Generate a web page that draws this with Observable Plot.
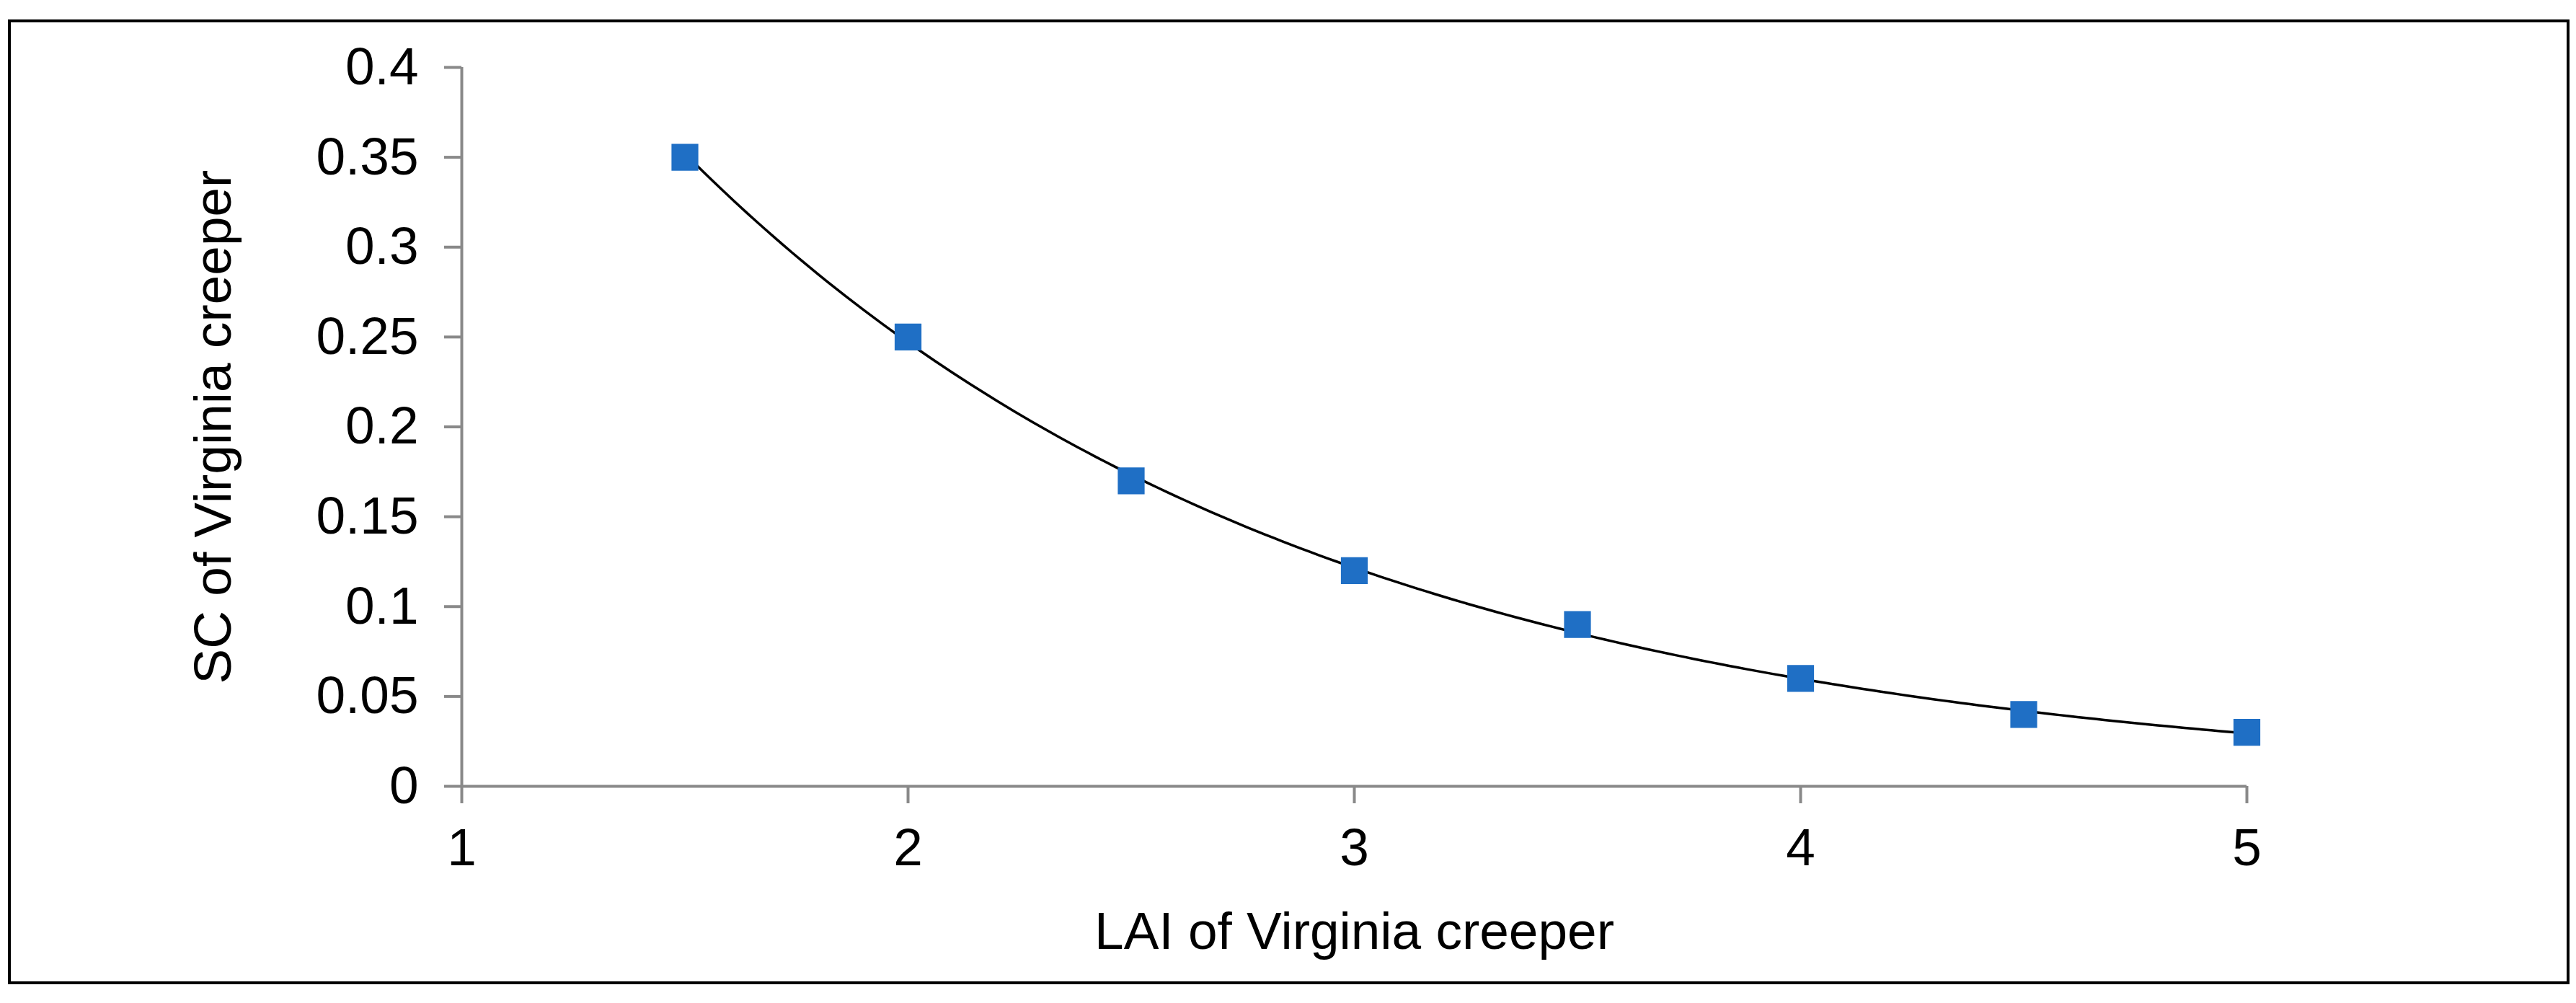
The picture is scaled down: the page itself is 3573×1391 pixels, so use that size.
<!DOCTYPE html>
<html><head><meta charset="utf-8">
<script src="https://cdn.jsdelivr.net/npm/d3@7"></script>
<script src="https://cdn.jsdelivr.net/npm/@observablehq/plot@0.6"></script>
<style>
body{margin:0;background:#fff;}
#wrap{position:relative;width:3573px;height:1391px;}
#frame{position:absolute;left:11px;top:27px;width:3545px;height:1330px;border:4px solid #000;}
svg{position:absolute;left:0;top:0;}
</style></head><body><div id="wrap"><div id="frame"></div></div>
<script>
const lai = [1.5, 2, 2.5, 3, 3.5, 4, 4.5, 5];
const sc = [0.35, 0.25, 0.17, 0.12, 0.09, 0.06, 0.04, 0.03];
const xTicks = [1, 2, 3, 4, 5];
const yTicks = [0, 0.05, 0.1, 0.15, 0.2, 0.25, 0.3, 0.35, 0.4];

const pts = lai.map((x, i) => ({x, y: sc[i]}));
// exponential trendline (least squares on log y), like Excel
const mx = d3.mean(pts, d => d.x), my = d3.mean(pts, d => Math.log(d.y));
const b = d3.sum(pts, d => (d.x - mx) * (Math.log(d.y) - my)) / d3.sum(pts, d => (d.x - mx) ** 2);
const a = Math.exp(my - b * mx);
const trend = d3.range(1.5, 5.0001, 0.02).map(x => ({x, y: a * Math.exp(b * x)}));

const axisColor = "#898989";
const fs = 73;
const chart = Plot.plot({
  width: 3573, height: 1391,
  marginLeft: 640, marginRight: 457, marginTop: 93, marginBottom: 301,
  style: {fontFamily: "'Liberation Sans', Arial, sans-serif", fontSize: fs + "px", color: "#000", background: "transparent"},
  x: {domain: [1, 5], label: null},
  y: {domain: [0, 0.4], label: null},
  marks: [
    Plot.ruleY([0], {stroke: axisColor, strokeWidth: 4}),
    Plot.ruleX([1], {stroke: axisColor, strokeWidth: 4}),
    Plot.axisY({ticks: yTicks, tickFormat: d => d, tickSize: 24, tickPadding: 36, stroke: axisColor, strokeWidth: 4, fill: "#000", label: null, fontSize: fs}),
    Plot.axisX({ticks: xTicks, tickFormat: d => d, tickSize: 24, tickPadding: 34, stroke: axisColor, strokeWidth: 4, fill: "#000", label: null, fontSize: fs}),
    Plot.line(trend, {x: "x", y: "y", stroke: "#000", strokeWidth: 3.5}),
    Plot.dot(pts, {x: "x", y: "y", symbol: "square", r: 21, fill: "#1F6FC5", stroke: "none"}),
    Plot.text(["LAI of Virginia creeper"], {frameAnchor: "bottom", dy: 225, text: d => d, fontSize: fs, fill: "#000"}),
    Plot.text(["SC of Virginia creeper"], {frameAnchor: "left", dx: -344, rotate: -90, textAnchor: "middle", text: d => d, fontSize: fs, fill: "#000"})
  ]
});
document.getElementById("wrap").appendChild(chart);
</script></body></html>
